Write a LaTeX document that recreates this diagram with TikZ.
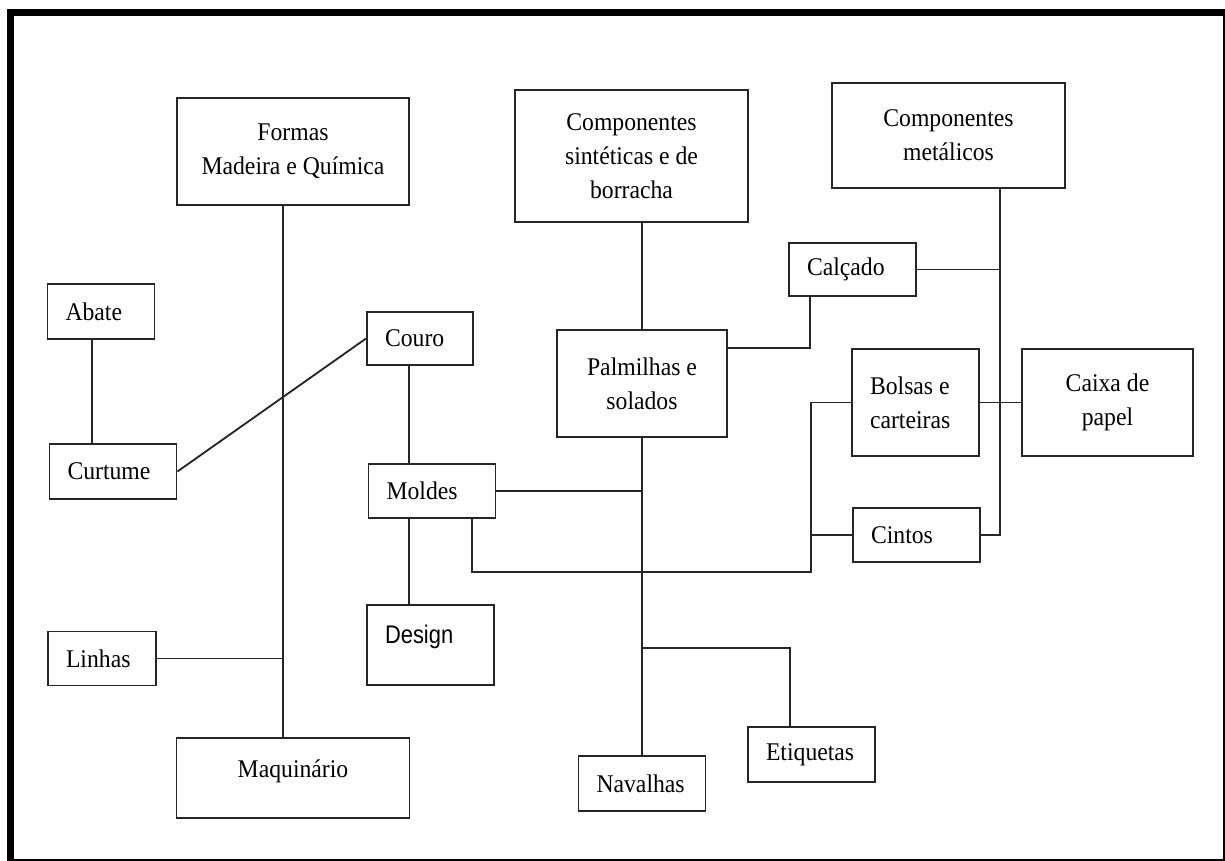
\documentclass[tikz,border=0pt]{standalone}
\usepackage{fontspec}
\setmainfont{Liberation Serif}[FakeStretch=0.93]
\newfontfamily\designfont[FakeStretch=0.86]{Liberation Sans}

\tikzset{
  caixa/.style={draw=black!85, line width=1.1pt, inner ysep=0pt, align=center,
    font=\fontsize{14.5}{19.5}\selectfont},
  peq/.style={caixa, align=flush left, inner xsep=0.36cm, text width=1.82cm},
  liga/.style={draw=black!85, line width=1.05pt},
}

\begin{document}
\begin{tikzpicture}[x=0.02cm, y=-0.02cm]
\useasboundingbox (0,0) rectangle (1225,861);
\fill[white] (0,0) rectangle (1225,861);

% moldura
\draw[line width=4pt] (10.5,9) -- (10.5,861);
\draw[line width=4pt] (7,12.5) -- (1225,12.5);
\draw[line width=1.4pt] (1223.8,9) -- (1223.8,861);
\draw[line width=1.2pt] (7,860) -- (1225,860);

% caixas grandes
\node[caixa, minimum width=4.64cm, minimum height=2.14cm] (formas) at (293,151.5) {Formas\\Madeira e Química};
\node[caixa, minimum width=4.66cm, minimum height=2.64cm] (sint) at (631.5,156) {Componentes\\sintéticas e de\\borracha};
\node[caixa, minimum width=4.66cm, minimum height=2.1cm] (metal) at (948.5,135.5) {Componentes\\metálicos};
\node[caixa, minimum width=3.4cm, minimum height=2.14cm] (palm) at (642,383.5) {Palmilhas e\\solados};
\node[caixa, minimum width=3.42cm, minimum height=2.14cm] (caixa) at (1107.5,402.5) {Caixa de\\papel};
\node[caixa, minimum width=4.66cm, text height=0.78cm, text depth=0.82cm] (maq) at (293,778) {Maquinário};

% caixas pequenas
\node[peq, text width=1.42cm, minimum height=1.1cm] (abate) at (101,311.5) {Abate};
\node[peq, minimum height=1.1cm] (curtume) at (113,471.5) {Curtume};
\node[peq, text width=1.4cm, minimum height=1.06cm] (couro) at (420,338.5) {Couro};
\node[peq, minimum height=1.08cm] (moldes) at (432,491) {Moldes};
\node[peq, font=\designfont\fontsize{14.5}{19.5}\selectfont, text height=0.76cm, text depth=0.84cm] (design) at (430.5,645) {Design};
\node[peq, text width=1.44cm, minimum height=1.08cm] (linhas) at (102,658.5) {Linhas};
\node[peq, minimum height=1.06cm] (calcado) at (852.5,269.5) {Calçado};
\node[peq, minimum height=2.14cm] (bolsas) at (915.5,402.5) {Bolsas e\\carteiras};
\node[peq, minimum height=1.08cm] (cintos) at (916.5,535) {Cintos};
\node[peq, minimum height=1.1cm] (naval) at (642,783.5) {Navalhas};
\node[peq, minimum height=1.1cm] (etiq) at (811.5,754.5) {Etiquetas};

% pontos das linhas
\coordinate (barF) at (283,0);
\coordinate (barA) at (92,0);
\coordinate (barC) at (409,0);
\coordinate (barM) at (1000,0);
\coordinate (barB) at (811,0);
\coordinate (baixo) at (472,572);
\coordinate (calc) at (810,348);
\coordinate (etq) at (790,648);

% ligacoes
\draw[liga] (formas.south -| barF) -- (maq.north -| barF);
\draw[liga] (linhas.east) -- (linhas.east -| barF);
\draw[liga] (abate.south -| barA) -- (curtume.north -| barA);
\draw[liga] (curtume.east) -- (couro.west);
\draw[liga] (couro.south -| barC) -- (moldes.north -| barC);
\draw[liga] (moldes.south -| barC) -- (design.north -| barC);
\draw[liga] (palm.north |- sint.south) -- (palm.north);
\draw[liga] (palm.south) -- (palm.south |- naval.north);
\draw[liga] (moldes.east) -- (moldes.east -| palm.south);
\draw[liga] (moldes.south -| baixo) -- (baixo) -- (baixo -| barB) -- (bolsas.west -| barB) -- (bolsas.west);
\draw[liga] (cintos.west -| barB) -- (cintos.west);
\draw[liga] (calcado.south -| calc) -- (calc) -- (calc -| palm.east);
\draw[liga] (calcado.east) -- (calcado.east -| barM);
\draw[liga] (metal.south -| barM) -- (cintos.east -| barM) -- (cintos.east);
\draw[liga] (bolsas.east) -- (caixa.west);
\draw[liga] (etq -| palm.south) -- (etq) -- (etiq.north -| etq);

\end{tikzpicture}
\end{document}
